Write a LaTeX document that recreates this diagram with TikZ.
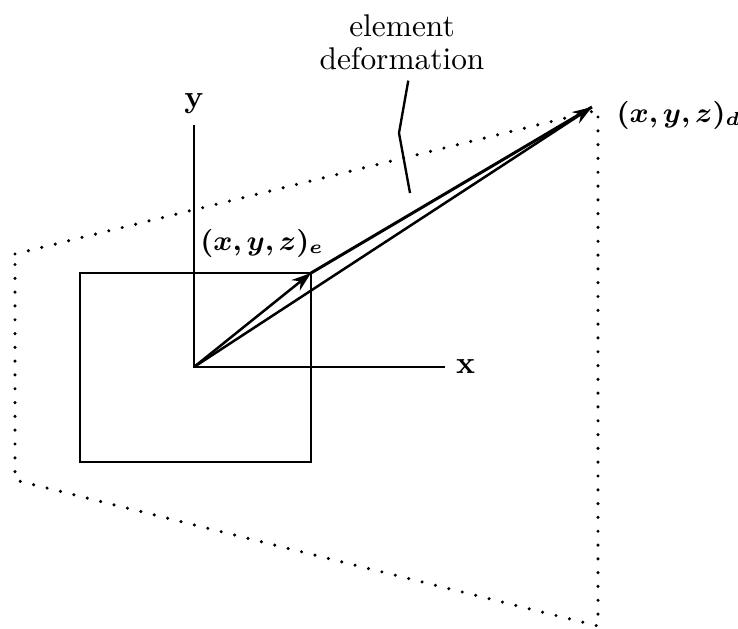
\documentclass[tikz,border=0pt]{standalone}
\usepackage{bm}
\usepackage{tikz}
\usetikzlibrary{positioning, arrows.meta}

\tikzset{
  solidline/.style={line width=0.95pt},
  vecline/.style={line width=0.8pt, -{Stealth[length=2.2mm,width=1.5mm]}},
  hulldots/.style={line width=1.1pt, line cap=round, dash pattern=on 0pt off 4.4pt},
  leaderline/.style={line width=0.75pt}
}

\begin{document}
\begin{tikzpicture}[x=1.12cm, y=1.12cm]
        \useasboundingbox (0,0) rectangle (7.38,6.28);
        % axes and element corners
        \coordinate (O) at (1.94,2.61);
        \coordinate (ytop) at (1.94,5.03);
        \coordinate (xend) at (4.45,2.61);
        \coordinate (ebl) at (0.80,1.66);
        \coordinate (ecorner) at (3.11,3.55);
        \coordinate (dtip) at (5.92,5.21);
        % deformed outline
        \coordinate (h1) at (0.15,3.74);
        \coordinate (h2) at (5.98,5.18);
        \coordinate (h3) at (5.98,0.02);
        \coordinate (h4) at (0.15,1.48);
        \draw[hulldots] (h1) -- (h2) -- (h3) -- (h4) -- cycle;
        \draw[solidline] (ebl) rectangle (ecorner);
        \draw[solidline] (ytop) -- (O) -- (xend);
        \node[above=0pt of ytop] (ylab) {\textbf{y}};
        \node[right=0pt of xend] (xlab) {\textbf{x}};
        \draw[vecline] (O) -- (ecorner);
        \draw[vecline] (O) -- (dtip);
        \draw[solidline] (ecorner) -- (dtip);
        \node[font=\small] (elab) at (2.62,3.85) {$\bm{(x,y,z)}_{\bm{e}}$};
        \node[font=\small, anchor=west, inner sep=0pt] (dlab) at (6.16,5.13) {$\bm{(x,y,z)}_{\bm{d}}$};
        \node[align=center] (defo) at (4.02,5.86) {element\\[-1.5pt]deformation};
        \coordinate (k1) at (3.99,4.95);
        \coordinate (k2) at (4.10,4.35);
        \draw[leaderline] ([xshift=2pt]defo.south) -- (k1) -- (k2);
      \end{tikzpicture}
\end{document}
